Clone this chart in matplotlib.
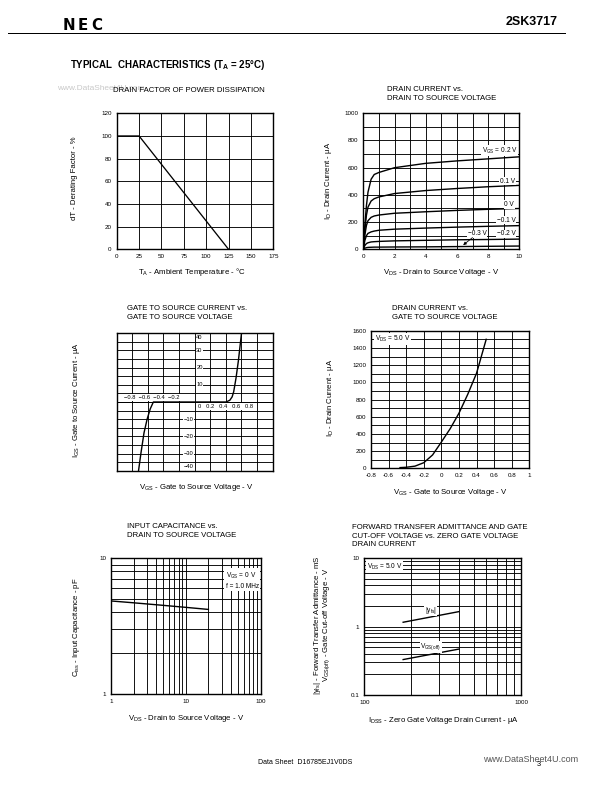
import numpy as np
import matplotlib
matplotlib.use("Agg")
import matplotlib.pyplot as plt
from matplotlib.ticker import NullFormatter

plt.rcParams['font.family'] = ['Liberation Sans', 'DejaVu Sans']
plt.rcParams['mathtext.default'] = 'regular'

# ---- data ----
# derating factor
derate_t = [0, 25, 125]
derate_pct = [100, 100, 0]

# drain current vs drain-source voltage
vds = [0, 0.1, 0.2, 0.3, 0.5, 0.7, 1, 2, 4, 6, 8, 10]
id_vgs = {
    '0.2': [0, 180, 320, 420, 515, 550, 565, 600, 632, 650, 665, 680],
    '0.1': [0, 140, 250, 310, 355, 372, 385, 410, 432, 447, 460, 470],
    '0': [0, 105, 175, 210, 235, 245, 252, 265, 276, 286, 294, 300],
    '-0.1': [0, 65, 100, 117, 128, 134, 140, 148, 156, 163, 169, 174],
    '-0.2': [0, 28, 42, 48, 54, 56, 58, 62, 66, 70, 72, 75],
    '-0.3': [0, 8, 12, 14, 15, 16, 16, 17, 18, 20, 22, 24],
}

# gate current vs gate voltage
vgs_g = [-0.72, -0.69, -0.65, -0.61, -0.57, -0.53, -0.4, 0, 0.4, 0.45, 0.48, 0.5, 0.53, 0.56, 0.6]
igs = [-40, -30, -18, -10, -4, 0, 0, 0, 0, 1, 3, 6, 14, 24, 40]

# drain current vs gate voltage
vgs_d = [-0.47, -0.4, -0.3, -0.2, -0.1, 0, 0.1, 0.2, 0.3, 0.4, 0.51]
id_d = [8, 12, 25, 65, 155, 305, 460, 640, 860, 1105, 1500]

# input capacitance
ciss_v = [1, 2, 5, 10, 20]
ciss = [4.85, 4.7, 4.5, 4.35, 4.2]

# forward transfer admittance / cutoff voltage
idss = [177, 402]
yfs = [1.16, 1.66]
vgsoff = [0.33, 0.47]

W, H = 612, 792
fig = plt.figure(figsize=(W / 72, H / 72), dpi=72)

TITLE = 7.8
LABEL = 7.8
TICK = 6.2
NOTE = 6.5


def fx(x):
    return x / W


def fy(y):
    return 1 - y / H


def add_ax(l, t, r, b):
    return fig.add_axes([fx(l), fy(b), (r - l) / W, (b - t) / H])


def style(ax):
    for s in ax.spines.values():
        s.set_linewidth(1.4)
        s.set_zorder(4)
    ax.tick_params(which='both', length=0, labelsize=TICK, pad=5)
    ax.grid(True, which='both', color='black', linewidth=0.9)
    ax.set_axisbelow(True)


def txt(x, y, s, size=LABEL, **kw):
    fig.text(fx(x), fy(y), s, fontsize=size, **kw)


box = dict(facecolor='white', edgecolor='none', pad=0.6)

# ---- header ----
for ch, xx in zip('NEC', [63, 77.5, 91]):
    txt(xx, 25, ch, size=15, weight='bold', va='center', family='DejaVu Sans')
txt(558, 22, '2SK3717', size=12.5, weight='bold', ha='right', va='center')
fig.add_artist(plt.Line2D([fx(8), fx(565)], [fy(33), fy(33)], color='black', linewidth=1.0))
txt(70, 65, 'TYPICAL  CHARACTERISTICS (T$_A$ = 25°C)', size=9.8, weight='bold', va='center')
txt(57, 88, 'www.DataSheet4U.com', size=8.3, color='#c8c8c8', va='center')

# ---- plot 1 ----
ax1 = add_ax(116.7, 113.3, 273.3, 249.3)
ax1.plot(derate_t, derate_pct, color='black', linewidth=1.3)
ax1.set_xlim(0, 175)
ax1.set_ylim(0, 120)
ax1.set_xticks(np.arange(0, 176, 25))
ax1.set_yticks(np.arange(0, 121, 20))
style(ax1)
txt(113, 90, 'DRAIN FACTOR OF POWER DISSIPATION', size=TITLE, va='center')
txt(192, 272, 'T$_A$ - Ambient Temperature - °C', ha='center', va='center')
txt(75, 178, 'dT - Derating Factor - %', ha='center', va='center', rotation=90)

# ---- plot 2 ----
ax2 = add_ax(363.3, 113.3, 519.3, 249.3)
for k, v in id_vgs.items():
    ax2.plot(vds, v, color='black', linewidth=1.4)
ax2.set_xlim(0, 10)
ax2.set_ylim(0, 1000)
ax2.set_xticks(np.arange(0, 11, 1))
ax2.set_xticklabels(['0', '', '2', '', '4', '', '6', '', '8', '', '10'])
ax2.set_yticks(np.arange(0, 1001, 100))
ax2.set_yticklabels([str(v) if v % 200 == 0 else '' for v in range(0, 1001, 100)])
style(ax2)
ax2.text(8.75, 725, 'V$_{GS}$ = 0.2 V', fontsize=NOTE, ha='center', va='center', bbox=box)
ax2.text(9.25, 500, '0.1 V', fontsize=NOTE, ha='center', va='center', bbox=box)
ax2.text(9.35, 330, '0 V', fontsize=NOTE, ha='center', va='center', bbox=box)
ax2.text(9.15, 215, '−0.1 V', fontsize=NOTE, ha='center', va='center', bbox=box)
ax2.text(9.15, 115, '−0.2 V', fontsize=NOTE, ha='center', va='center', bbox=box)
ax2.text(7.3, 115, '−0.3 V', fontsize=NOTE, ha='center', va='center', bbox=box)
ax2.annotate('', xy=(6.3, 22), xytext=(7.1, 95),
             arrowprops=dict(arrowstyle='-|>', color='black', lw=0.8, mutation_scale=6))
txt(387, 94, 'DRAIN CURRENT vs.\nDRAIN TO SOURCE VOLTAGE', size=TITLE, va='center', linespacing=1.25)
txt(441, 272, 'V$_{DS}$ - Drain to Source Voltage - V', ha='center', va='center')
txt(329, 181, 'I$_D$ - Drain Current - µA', ha='center', va='center', rotation=90)

# ---- plot 3 ----
ax3 = add_ax(116.7, 333.3, 272.7, 470.7)
ax3.plot(vgs_g, igs, color='black', linewidth=1.4, zorder=3)
ax3.set_xlim(-1, 1)
ax3.set_ylim(-40, 40)
ax3.set_xticks(np.arange(-1, 1.01, 0.2))
ax3.set_yticks(np.arange(-40, 41, 5))
ax3.set_xticklabels([])
ax3.set_yticklabels([])
style(ax3)
ax3.axhline(0, color='black', linewidth=1.0)
ax3.text(-0.55, 2.6, '−0.8  −0.6  −0.4  −0.2', fontsize=5.8, ha='center', va='center', bbox=box, zorder=2)
ax3.text(0.39, -2.6, '0   0.2   0.4   0.6   0.8', fontsize=5.8, ha='center', va='center', bbox=box, zorder=2)
for v in [40, 30, 20, 10]:
    ax3.text(0.02, v if v < 40 else 37.5, str(v), fontsize=5.8, ha='left', va='center', bbox=box, zorder=2)
for v in [-10, -20, -30, -40]:
    ax3.text(-0.08, v if v > -40 else -37.5, '−' + str(-v), fontsize=5.8, ha='center', va='center', bbox=box, zorder=2)
txt(127, 313, 'GATE TO SOURCE CURRENT vs.\nGATE TO SOURCE VOLTAGE', size=TITLE, va='center', linespacing=1.25)
txt(196, 487, 'V$_{GS}$ - Gate to Source Voltage - V', ha='center', va='center')
txt(76, 400, 'I$_{GS}$ - Gate to Source Current - µA', ha='center', va='center', rotation=90)

# ---- plot 4 ----
ax4 = add_ax(371, 330.7, 529.3, 468.3)
ax4.plot(vgs_d, id_d, color='black', linewidth=1.4)
ax4.set_xlim(-0.8, 1.0)
ax4.set_ylim(0, 1600)
xt4 = np.round(np.arange(-0.8, 1.01, 0.2), 1)
ax4.set_xticks(xt4)
ax4.set_xticklabels(['-0.8', '-0.6', '-0.4', '-0.2', '0', '0.2', '0.4', '0.6', '0.8', '1'])
ax4.set_yticks(np.arange(0, 1601, 100))
ax4.set_yticklabels([str(v) if v % 200 == 0 else '' for v in range(0, 1601, 100)])
style(ax4)
ax4.text(-0.76, 1505, 'V$_{DS}$ = 5.0 V', fontsize=NOTE, ha='left', va='center', bbox=box)
txt(392, 313, 'DRAIN CURRENT vs.\nGATE TO SOURCE VOLTAGE', size=TITLE, va='center', linespacing=1.25)
txt(450, 492, 'V$_{GS}$ - Gate to Source Voltage - V', ha='center', va='center')
txt(330, 398, 'I$_D$ - Drain Current - µA', ha='center', va='center', rotation=90)

# ---- plot 5 ----
ax5 = add_ax(111, 558.3, 260.7, 694)
ax5.plot(ciss_v, ciss, color='black', linewidth=1.4)
ax5.set_xscale('log')
ax5.set_yscale('log')
ax5.set_xlim(1, 100)
ax5.set_ylim(1, 10)
ax5.set_xticks([1, 10, 100])
ax5.set_xticklabels(['1', '10', '100'])
ax5.set_yticks([1, 10])
ax5.set_yticklabels(['1', '10'])
ax5.xaxis.set_minor_formatter(NullFormatter())
ax5.yaxis.set_minor_formatter(NullFormatter())
style(ax5)
ax5.text(34, 6.9, 'V$_{GS}$ = 0 V\nf = 1.0 MHz', fontsize=NOTE, ha='left', va='center',
         bbox=dict(facecolor='white', edgecolor='none', pad=1.2), linespacing=1.3)
txt(127, 531, 'INPUT CAPACITANCE vs.\nDRAIN TO SOURCE VOLTAGE', size=TITLE, va='center', linespacing=1.25)
txt(186, 718, 'V$_{DS}$ - Drain to Source Voltage - V', ha='center', va='center')
txt(76, 627, 'C$_{iss}$ - Input Capacitance - pF', ha='center', va='center', rotation=90)

# ---- plot 6 ----
ax6 = add_ax(364.3, 558.3, 521, 695)
ax6.plot(idss, yfs, color='black', linewidth=1.4)
ax6.plot(idss, vgsoff, color='black', linewidth=1.4)
ax6.set_xscale('log')
ax6.set_yscale('log')
ax6.set_xlim(100, 1000)
ax6.set_ylim(0.1, 10)
ax6.set_xticks([100, 1000])
ax6.set_xticklabels(['100', '1000'])
ax6.set_yticks([0.1, 1, 10])
ax6.set_yticklabels(['0.1', '1', '10'])
ax6.xaxis.set_minor_formatter(NullFormatter())
ax6.yaxis.set_minor_formatter(NullFormatter())
style(ax6)
ax6.text(104, 7.6, 'V$_{DS}$ = 5.0 V', fontsize=NOTE, ha='left', va='center', bbox=box)
ax6.text(265, 1.75, '|y$_{fs}$|', fontsize=NOTE, ha='center', va='center', bbox=box)
ax6.text(265, 0.51, 'V$_{GS(off)}$', fontsize=NOTE, ha='center', va='center', bbox=box)
txt(352, 536, 'FORWARD TRANSFER ADMITTANCE AND GATE\nCUT-OFF VOLTAGE vs. ZERO GATE VOLTAGE\nDRAIN CURRENT',
    size=TITLE, va='center', linespacing=1.25)
txt(443, 720, 'I$_{DSS}$ - Zero Gate Voltage Drain Current - µA', ha='center', va='center')
txt(317, 625, '|y$_{fs}$| - Forward Transfer Admittance - mS', ha='center', va='center', rotation=90)
txt(327, 625, 'V$_{GS(off)}$ - Gate Cut-off Voltage - V', ha='center', va='center', rotation=90)

# ---- footer ----
txt(258, 763, 'Data Sheet  D16785EJ1V0DS', size=7, va='center')
txt(483, 759, 'www.DataSheet4U.com', size=9, color='#555555', va='center')
txt(537, 765, '3', size=7.5, va='center')

fig.savefig('out.png', dpi=72)
